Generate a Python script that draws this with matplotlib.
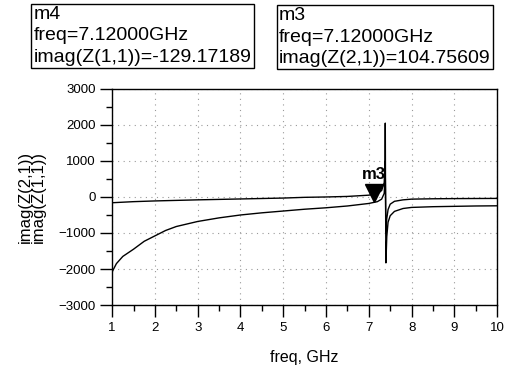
import matplotlib.pyplot as plt
from matplotlib.ticker import MultipleLocator

plt.rcParams['font.family'] = ['Liberation Sans', 'DejaVu Sans']

# imag(Z(1,1))
freq_z11 = [1.0, 1.1, 1.25, 1.5, 1.75, 2.0, 2.25, 2.5, 3.0, 3.5, 4.0, 4.5, 5.0, 5.5,
            6.0, 6.5, 7.0, 7.2, 7.3, 7.36, 7.38, 7.385, 7.39, 7.40, 7.42, 7.45,
            7.5, 7.6, 7.8, 8.0, 8.5, 9.0, 9.5, 10.0]
z11 = [-2080, -1850, -1650, -1450, -1230, -1080, -930, -820, -680, -580, -500, -440,
       -390, -340, -300, -250, -180, -130, -60, 100, 600, 2050, 300, -1830, -1100, -700,
       -520, -400, -320, -290, -270, -260, -250, -245]

# imag(Z(2,1))
freq_z21 = [1.0, 1.5, 2.0, 3.0, 4.0, 5.0, 5.5, 6.0, 6.5, 7.0, 7.2, 7.3, 7.36,
            7.38, 7.39, 7.40, 7.42, 7.45, 7.5, 7.6, 7.8, 8.0, 8.5, 9.0, 10.0]
z21 = [-160, -130, -110, -80, -55, -30, -10, 0, 15, 50, 90, 180, 400,
       1000, 200, -1000, -600, -350, -200, -120, -80, -60, -50, -45, -40]

marker_freq = 7.12
marker_z11 = -129.17189
marker_z21 = 104.75609

fig = plt.figure(figsize=(5.12, 3.72), dpi=100)
ax = fig.add_axes([0.219, 0.180, 0.752, 0.581])

ax.plot(freq_z11, z11, color='black', lw=1.0)
ax.plot(freq_z21, z21, color='black', lw=1.0)

ax.set_xlim(1, 10)
ax.set_ylim(-3000, 3000)
ax.xaxis.set_major_locator(MultipleLocator(1))
ax.xaxis.set_minor_locator(MultipleLocator(0.5))
ax.yaxis.set_major_locator(MultipleLocator(1000))
ax.yaxis.set_minor_locator(MultipleLocator(500))
ax.tick_params(which='major', direction='out', length=8.5, width=1, labelsize=9.5)
ax.tick_params(which='minor', direction='out', length=4, width=1)
ax.grid(True, which='major', color='#999999', linestyle=(0, (1, 4)), lw=0.8)
for s in ax.spines.values():
    s.set_linewidth(1.0)

ax.set_xlabel('freq, GHz', fontsize=11.5, labelpad=12)
ax.set_ylabel('imag(Z(2,1))\nimag(Z(1,1))', fontsize=12, labelpad=9, linespacing=0.85)

# marker m3/m4
ax.plot([marker_freq], [marker_z11 + 250], marker='v', color='black', markersize=13)
ax.text(marker_freq, marker_z11 + 540, 'm3', fontsize=12, fontweight='bold',
        ha='center', va='bottom')

box = dict(boxstyle='square,pad=0.12', fc='white', ec='black', lw=1.0)
fig.text(0.066, 0.983, 'm4\nfreq=7.12000GHz\nimag(Z(1,1))=%.5f' % marker_z11,
         fontsize=14, linespacing=1.32, va='top', ha='left', bbox=box)
fig.text(0.545, 0.980, 'm3\nfreq=7.12000GHz\nimag(Z(2,1))=%.5f' % marker_z21,
         fontsize=14, linespacing=1.32, va='top', ha='left', bbox=box)

fig.savefig('out.png', dpi=100)
